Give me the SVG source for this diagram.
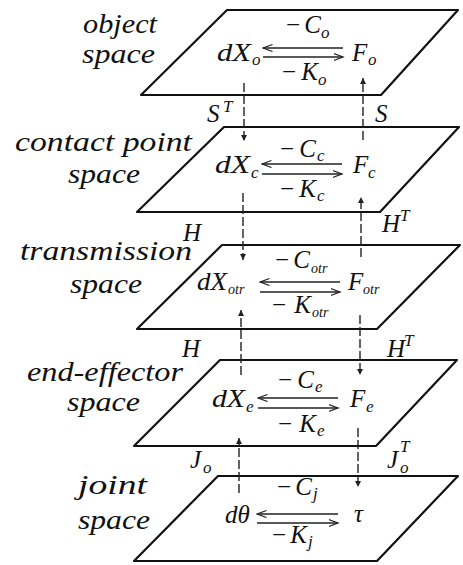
<svg xmlns="http://www.w3.org/2000/svg" width="463" height="565" viewBox="0 0 463 565">
<defs>
<style>
.pl{fill:none;stroke:#111;stroke-width:2.2;stroke-linejoin:round}
.lb{font-family:"Liberation Serif",serif;font-style:italic;font-size:28px;fill:#111}
.m{font-family:"Liberation Serif",serif;font-style:italic;font-size:25px;fill:#111}
.s{font-family:"Liberation Serif",serif;font-style:italic;font-size:17px;fill:#111}
.ss{font-family:"Liberation Serif",serif;font-style:italic;font-size:14px;fill:#111}
.mn{font-style:normal}
.v{stroke:#222;stroke-width:1.4;stroke-dasharray:9 3;fill:none;marker-end:url(#tri)}
.h{stroke:#222;stroke-width:1.3;fill:none;marker-end:url(#open)}
</style>
<marker id="tri" markerUnits="userSpaceOnUse" markerWidth="7" markerHeight="7" refX="6" refY="3" orient="auto"><path d="M0,0 L6,3 L0,6 z" fill="#222"/></marker>
<marker id="open" markerUnits="userSpaceOnUse" markerWidth="11" markerHeight="9" refX="9.5" refY="4" orient="auto"><path d="M0,0.5 L9.5,4 L0,7.5" fill="none" stroke="#222" stroke-width="1.2"/></marker>
</defs>

<g id="object-space">
<path class="pl" d="M227,10 L458,10 L381,95 L141,95 Z"/>
<text class="lb" x="83" y="33" textLength="74" lengthAdjust="spacingAndGlyphs">object</text>
<text class="lb" x="82" y="63" textLength="73" lengthAdjust="spacingAndGlyphs">space</text>
<text class="m" x="286" y="33" textLength="35" lengthAdjust="spacing"><tspan class="mn">−</tspan>C</text><text class="s" x="321" y="38">o</text>
<text class="m" x="217" y="61" textLength="34" lengthAdjust="spacingAndGlyphs">dX</text><text class="s" x="252" y="65">o</text>
<text class="m" x="352" y="61">F</text><text class="s" x="368" y="65">o</text>
<text class="m" x="282" y="80" textLength="36" lengthAdjust="spacing"><tspan class="mn">−</tspan>K</text><text class="s" x="318" y="85">o</text>
<line class="h" x1="343" y1="48" x2="263" y2="48"/>
<line class="h" x1="263" y1="57" x2="343" y2="57"/>
</g>

<g id="contact-point-space">
<path class="pl" d="M224,127 L459,127 L380,212 L137,212 Z"/>
<text class="lb" x="15" y="151" textLength="177" lengthAdjust="spacingAndGlyphs">contact point</text>
<text class="lb" x="68" y="183" textLength="72" lengthAdjust="spacingAndGlyphs">space</text>
<text class="m" x="280" y="157" textLength="36" lengthAdjust="spacing"><tspan class="mn">−</tspan>C</text><text class="s" x="317" y="161">c</text>
<text class="m" x="215" y="173" textLength="35" lengthAdjust="spacingAndGlyphs">dX</text><text class="s" x="251" y="178">c</text>
<text class="m" x="353" y="173">F</text><text class="s" x="368" y="178">c</text>
<text class="m" x="280" y="197" textLength="36" lengthAdjust="spacing"><tspan class="mn">−</tspan>K</text><text class="s" x="317" y="201">c</text>
<line class="h" x1="342" y1="164" x2="262" y2="164"/>
<line class="h" x1="262" y1="174" x2="342" y2="174"/>
</g>

<g id="transmission-space">
<path class="pl" d="M222,245 L460,245 L377,329 L137,329 Z"/>
<text class="lb" x="20" y="260" textLength="172" lengthAdjust="spacingAndGlyphs">transmission</text>
<text class="lb" x="70" y="293" textLength="72" lengthAdjust="spacingAndGlyphs">space</text>
<text class="m" x="275" y="268" textLength="35" lengthAdjust="spacing"><tspan class="mn">−</tspan>C</text><text class="ss" x="311" y="273">otr</text>
<text class="m" x="197" y="290" textLength="30" lengthAdjust="spacingAndGlyphs">dX</text><text class="ss" x="228" y="294">otr</text>
<text class="m" x="348" y="290">F</text><text class="ss" x="363" y="294">otr</text>
<text class="m" x="272" y="313" textLength="39" lengthAdjust="spacing"><tspan class="mn">−</tspan>K</text><text class="ss" x="312" y="317">otr</text>
<line class="h" x1="340" y1="282" x2="260" y2="282"/>
<line class="h" x1="260" y1="292" x2="340" y2="292"/>
</g>

<g id="end-effector-space">
<path class="pl" d="M220,360 L457,360 L376,446 L134,446 Z"/>
<text class="lb" x="27" y="381" textLength="156" lengthAdjust="spacingAndGlyphs">end-effector</text>
<text class="lb" x="67" y="411" textLength="73" lengthAdjust="spacingAndGlyphs">space</text>
<text class="m" x="278" y="388" textLength="36" lengthAdjust="spacing"><tspan class="mn">−</tspan>C</text><text class="s" x="315" y="392">e</text>
<text class="m" x="212" y="407" textLength="33" lengthAdjust="spacingAndGlyphs">dX</text><text class="s" x="246" y="412">e</text>
<text class="m" x="350" y="407">F</text><text class="s" x="366" y="412">e</text>
<text class="m" x="278" y="432" textLength="38" lengthAdjust="spacing"><tspan class="mn">−</tspan>K</text><text class="s" x="317" y="436">e</text>
<line class="h" x1="338" y1="398" x2="258" y2="398"/>
<line class="h" x1="258" y1="408" x2="338" y2="408"/>
</g>

<g id="joint-space">
<path class="pl" d="M218,476 L458,476 L377,561 L134,561 Z"/>
<text class="lb" x="78" y="494" textLength="69" lengthAdjust="spacingAndGlyphs">joint</text>
<text class="lb" x="78" y="529" textLength="72" lengthAdjust="spacingAndGlyphs">space</text>
<text class="m" x="277" y="495" textLength="35" lengthAdjust="spacing"><tspan class="mn">−</tspan>C</text><text class="s" x="313" y="499">j</text>
<text class="m" x="225" y="523">dθ</text>
<text class="m" x="354" y="522">τ</text>
<text class="m" x="272" y="543" textLength="35" lengthAdjust="spacing"><tspan class="mn">−</tspan>K</text><text class="s" x="308" y="547">j</text>
<line class="h" x1="338" y1="514" x2="257" y2="514"/>
<line class="h" x1="257" y1="523" x2="338" y2="523"/>
</g>

<g id="connectors">
<line class="v" x1="244" y1="83" x2="244" y2="141"/>
<line class="v" x1="363" y1="140" x2="363" y2="78"/>
<line class="v" x1="243" y1="193" x2="243" y2="260"/>
<line class="v" x1="361" y1="257" x2="361" y2="197"/>
<line class="v" x1="241" y1="375" x2="241" y2="310"/>
<line class="v" x1="360" y1="315" x2="360" y2="375"/>
<line class="v" x1="239" y1="493" x2="239" y2="438"/>
<line class="v" x1="358" y1="428" x2="358" y2="487"/>
<text class="m" x="207" y="122">S</text><text class="s" x="223" y="112">T</text>
<text class="m" x="375" y="122">S</text>
<text class="m" x="183" y="241">H</text>
<text class="m" x="382" y="232">H</text><text class="s" x="400" y="221">T</text>
<text class="m" x="182" y="357">H</text>
<text class="m" x="387" y="357">H</text><text class="s" x="404" y="346">T</text>
<text class="m" x="190" y="468">J</text><text class="s" x="203" y="473">o</text>
<text class="m" x="387" y="468">J</text><text class="s" x="400" y="452">T</text><text class="s" x="400" y="473">o</text>
</g>
</svg>
